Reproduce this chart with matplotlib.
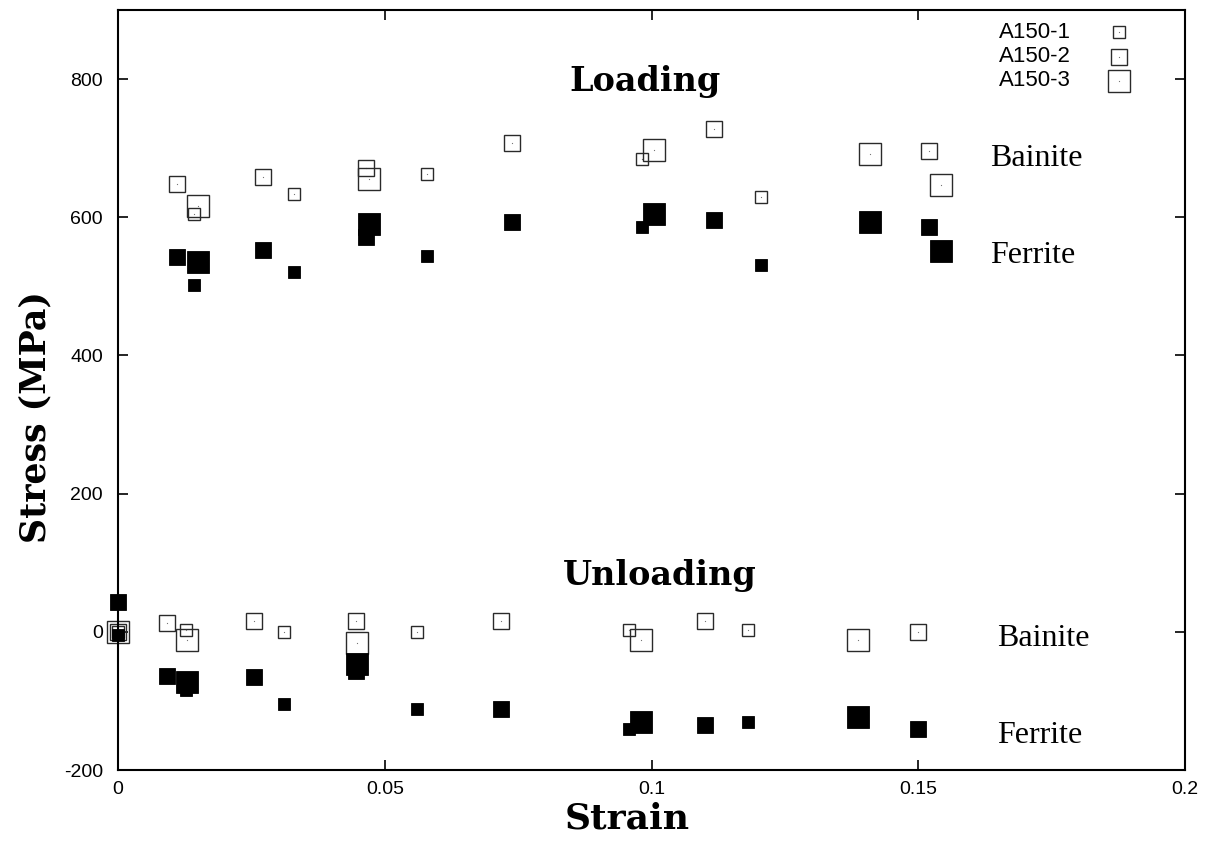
import matplotlib.pyplot as plt
import numpy as np

# Phase stresses vs. applied strain for three A150 specimens
# Loading (hollow = bainite, filled = ferrite)
a1_load_strain = [0.0143, 0.0330, 0.0580, 0.0982, 0.1205]
a1_load_bainite = [605, 633, 663, 685, 630]
a1_load_ferrite = [502, 521, 544, 586, 531]

a2_load_strain = [0.0110, 0.0271, 0.0465, 0.0738, 0.1118, 0.1520]
a2_load_bainite = [648, 659, 672, 707, 728, 696]
a2_load_ferrite = [542, 553, 571, 593, 596, 586]

a3_load_strain = [0.0150, 0.0470, 0.1005, 0.1409, 0.1543]
a3_load_bainite = [617, 656, 698, 691, 647]
a3_load_ferrite = [535, 591, 605, 593, 551]

# Unloading
a1_unload_strain = [0.0, 0.0127, 0.0311, 0.0560, 0.0958, 0.1180]
a1_unload_bainite = [0, 2, 0, 0, 2, 2]
a1_unload_ferrite = [-4, -84, -104, -112, -141, -131]

a2_unload_strain = [0.0, 0.0091, 0.0255, 0.0446, 0.0717, 0.1100, 0.1500]
a2_unload_bainite = [0, 13, 15, 15, 15, 15, 0]
a2_unload_ferrite = [43, -64, -66, -56, -112, -135, -140]

a3_unload_strain = [0.0, 0.0130, 0.0448, 0.0980, 0.1388]
a3_unload_bainite = [0, -12, -16, -12, -12]
a3_unload_ferrite = [None, -72, -47, -130, -123]

sizes = {"A150-1": 8, "A150-2": 11.5, "A150-3": 16}

plt.rcParams['font.family'] = ['Liberation Sans', 'DejaVu Sans']
plt.rcParams['axes.unicode_minus'] = False
fig = plt.figure(figsize=(12.12, 8.41), dpi=100)
ax = fig.add_axes([0.0974, 0.0844, 0.8803, 0.9037])


def hollow(x, y, ms):
    ax.plot(x, y, 's', ms=ms, mfc='none', mec='#2a2a2a', mew=1.0, ls='none', clip_on=False)
    ax.plot(x, y, 's', ms=0.8, mfc='#777777', mec='none', ls='none', clip_on=False)


def filled(x, y, ms):
    x = [a for a, b in zip(x, y) if b is not None]
    y = [b for b in y if b is not None]
    ax.plot(x, y, 's', ms=ms, mfc='black', mec='black', mew=0.6, ls='none', clip_on=False)


# loading
hollow(a1_load_strain, a1_load_bainite, sizes["A150-1"])
hollow(a2_load_strain, a2_load_bainite, sizes["A150-2"])
hollow(a3_load_strain, a3_load_bainite, sizes["A150-3"])
filled(a1_load_strain, a1_load_ferrite, sizes["A150-1"])
filled(a2_load_strain, a2_load_ferrite, sizes["A150-2"])
filled(a3_load_strain, a3_load_ferrite, sizes["A150-3"])

# unloading
hollow(a3_unload_strain, a3_unload_bainite, sizes["A150-3"])
hollow(a2_unload_strain, a2_unload_bainite, sizes["A150-2"])
hollow(a1_unload_strain, a1_unload_bainite, sizes["A150-1"])
filled(a3_unload_strain, a3_unload_ferrite, sizes["A150-3"])
filled(a2_unload_strain, a2_unload_ferrite, sizes["A150-2"])
filled(a1_unload_strain, a1_unload_ferrite, sizes["A150-1"])

# legend drawn as text + sample markers in axes coords
for i, (name, ms) in enumerate(sizes.items()):
    yy = 0.971 - i * 0.0322
    ax.text(0.893, yy, name, transform=ax.transAxes, ha='right', va='center', fontsize=16)
    ax.plot([0.938], [yy], 's', ms=ms, mfc='none', mec='#2a2a2a', mew=1.0,
            transform=ax.transAxes, clip_on=False)
    ax.plot([0.938], [yy], 's', ms=0.8, mfc='#777777', mec='none',
            transform=ax.transAxes, clip_on=False)

ax.set_xlim(0, 0.2)
ax.set_ylim(-200, 900)
ax.set_xticks([0, 0.05, 0.1, 0.15, 0.2])
ax.set_xticklabels(['0', '0.05', '0.1', '0.15', '0.2'])
ax.set_yticks([-200, 0, 200, 400, 600, 800])
ax.tick_params(direction='in', length=7, width=1.2, labelsize=14,
               top=True, right=True, pad=8)
ax.tick_params(axis='y', pad=11)
for s in ax.spines.values():
    s.set_linewidth(1.5)

ax.set_xlabel('Strain', family='DejaVu Serif', fontweight='bold', fontsize=26)
ax.xaxis.set_label_coords(0.477, -0.041, transform=ax.transAxes)
ax.xaxis.label.set_va('top')
ax.set_ylabel('Stress (MPa)', family='DejaVu Serif', fontweight='bold', fontsize=25)
ax.yaxis.set_label_coords(-0.077, 0.464, transform=ax.transAxes)
ax.yaxis.label.set_va('center')

ax.text(0.0988, 797, 'Loading', family='DejaVu Serif', fontweight='bold',
        fontsize=24, ha='center', va='center')
ax.text(0.1015, 82, 'Unloading', family='DejaVu Serif', fontweight='bold',
        fontsize=24, ha='center', va='center')
ax.text(0.1634, 685, 'Bainite', family='Liberation Serif', fontsize=23, va='center')
ax.text(0.1634, 545, 'Ferrite', family='Liberation Serif', fontsize=23, va='center')
ax.text(0.1648, -10, 'Bainite', family='Liberation Serif', fontsize=23, va='center')
ax.text(0.1648, -150, 'Ferrite', family='Liberation Serif', fontsize=23, va='center')

fig.savefig('out.png', dpi=100)
